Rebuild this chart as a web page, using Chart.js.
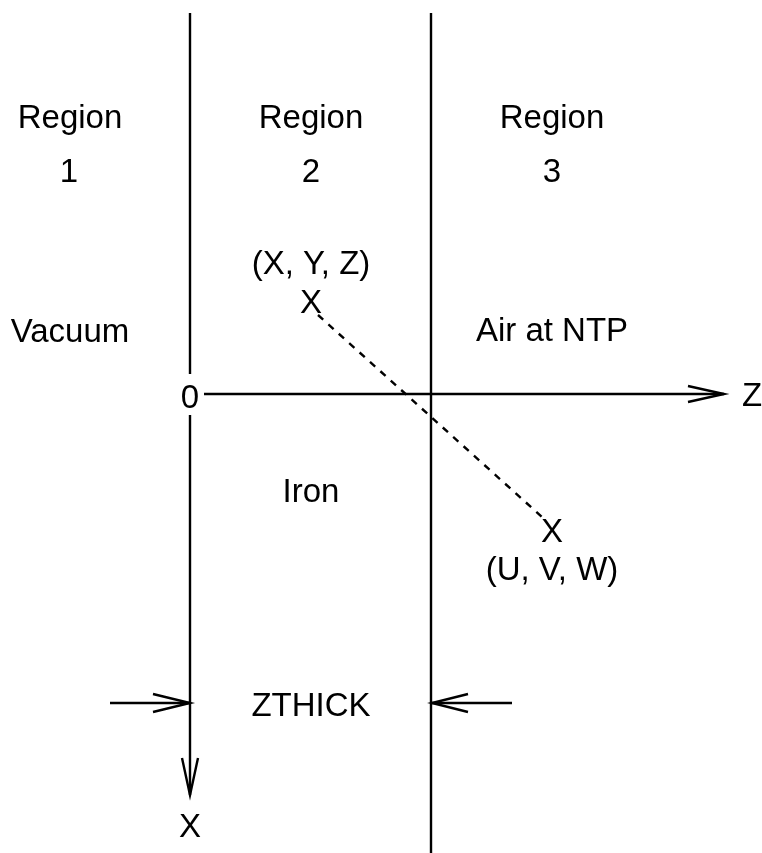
<!DOCTYPE html>
<html>
<head>
<meta charset="utf-8">
<script src="https://cdn.jsdelivr.net/npm/chart.js@4"></script>
<style>
  html, body { margin: 0; padding: 0; background: #fff; }
  #wrap { width: 762px; height: 853px; }
</style>
</head>
<body>
<div id="wrap"><canvas id="diagram" width="762" height="853"></canvas></div>
<script>
// diagram coordinates (drawing units, y grows downward)
const boundaryAbove = [[190, 13], [190, 374]]
const boundaryBelow = [[190, 415], [190, 795]]
const xArrowHead = [[182, 758], [190, 795], [198, 758]]
const rightBoundary = [[431, 13], [431, 853]]
const zAxis = [[204, 394], [724, 394]]
const zArrowHead = [[688, 386], [724, 394], [688, 402]]
const thickLeft = [[110, 703], [190, 703]]
const thickLeftHead = [[153, 694], [190, 703], [153, 712]]
const thickRight = [[512, 703], [432, 703]]
const thickRightHead = [[468, 694], [432, 703], [468, 712]]
const trackPath = [[318, 315], [542, 517]]

const labelTexts = [
  'Region', 'Region', 'Region', '1', '2', '3',
  'Vacuum', '(X, Y, Z)', 'X', 'Air at NTP', '0', 'Z',
  'Iron', 'X', '(U, V, W)', 'ZTHICK', 'X',
]
const labelX = [70, 311, 552, 69, 311, 552, 70, 311, 311, 552, 190, 752, 311, 552, 552, 311, 190]
const labelY = [128, 128, 128, 182, 182, 182, 342, 274, 313, 341, 408, 406, 502, 542, 580, 716, 837]

const solidPaths = [
  boundaryAbove, boundaryBelow, xArrowHead, rightBoundary, zAxis, zArrowHead,
  thickLeft, thickLeftHead, thickRight, thickRightHead,
]

const toPoints = (path) => path.map(([x, y]) => ({ x, y }))

const datasets = solidPaths.map((path) => ({
  data: toPoints(path),
  showLine: true,
  borderColor: '#000',
  borderWidth: 2.4,
  pointRadius: 0,
  borderJoinStyle: 'miter',
  borderCapStyle: 'butt',
  fill: false,
  clip: false,
}))
datasets.push({
  data: toPoints(trackPath),
  showLine: true,
  borderColor: '#000',
  borderWidth: 2.4,
  borderDash: [7, 7],
  pointRadius: 0,
  fill: false,
  clip: false,
})

// text labels placed through the scales
const labelPlugin = {
  id: 'labels',
  afterDatasetsDraw(chart) {
    const { ctx, scales } = chart
    ctx.save()
    ctx.fillStyle = '#000'
    ctx.font = '33px "Liberation Sans", Arial, sans-serif'
    ctx.textAlign = 'center'
    ctx.textBaseline = 'alphabetic'
    labelTexts.forEach((text, i) => {
      ctx.fillText(text, scales.x.getPixelForValue(labelX[i]), scales.y.getPixelForValue(labelY[i]))
    })
    ctx.restore()
  },
}

new Chart(document.getElementById('diagram'), {
  type: 'scatter',
  data: { datasets },
  options: {
    responsive: false,
    animation: false,
    layout: { padding: 0 },
    plugins: { legend: { display: false }, tooltip: { enabled: false } },
    scales: {
      x: { type: 'linear', min: 0, max: 762, display: false },
      y: { type: 'linear', min: 0, max: 853, reverse: true, display: false },
    },
  },
  plugins: [labelPlugin],
})
</script>
</body>
</html>
